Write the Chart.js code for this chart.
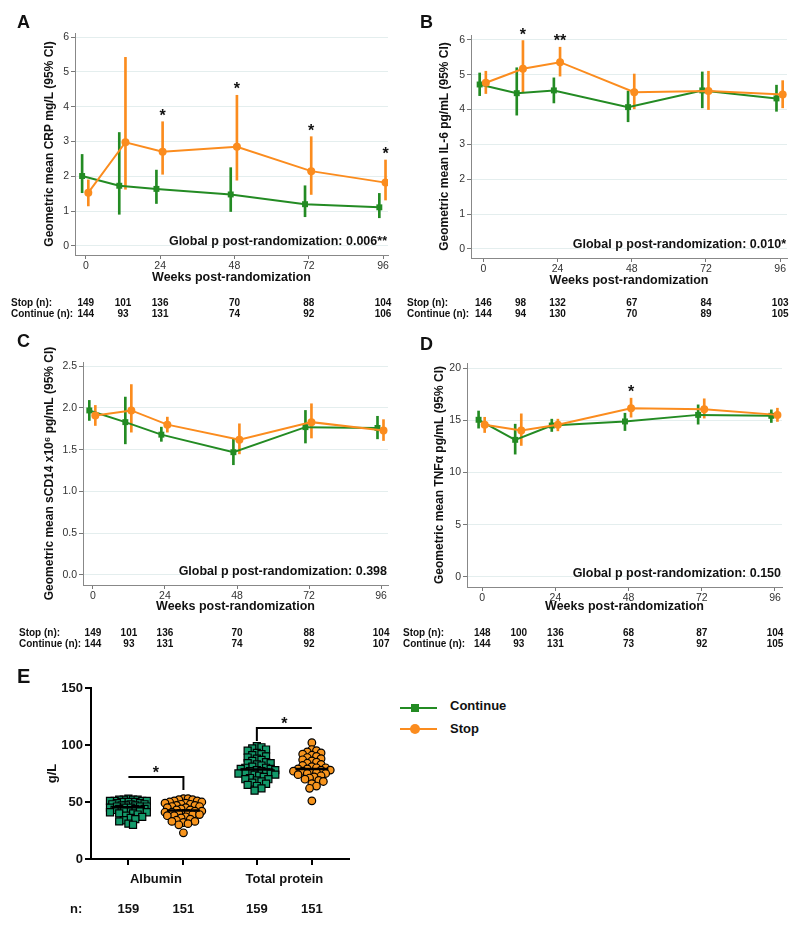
<!DOCTYPE html>
<html>
<head>
<meta charset="utf-8">
<script src="https://cdn.jsdelivr.net/npm/chart.js@4.4.1/dist/chart.umd.min.js"></script>
<style>
  body { margin: 0; background: #fff; font-family: Arial, "Liberation Sans", sans-serif; }
  #wrap { position: relative; width: 800px; height: 925px; overflow: hidden; }
  canvas { position: absolute; }
  .tag { position: absolute; font-weight: bold; font-size: 18px; line-height: 18px; color: #111; }
  .key { position: absolute; left: 400px; width: 37px; height: 2px; }
  .keytxt { position: absolute; left: 450px; font-weight: bold; font-size: 13px; line-height: 14px; color: #111; }
</style>
</head>
<body>
<div id="wrap">
  <canvas id="chartA" width="400" height="325" style="left:0;top:0"></canvas>
  <canvas id="chartB" width="400" height="325" style="left:400px;top:0"></canvas>
  <canvas id="chartC" width="400" height="325" style="left:0;top:330px"></canvas>
  <canvas id="chartD" width="400" height="325" style="left:400px;top:330px"></canvas>
  <canvas id="chartE" width="400" height="265" style="left:0;top:660px"></canvas>

  <div class="tag" style="left:17px;top:13px">A</div>
  <div class="tag" style="left:420px;top:13px">B</div>
  <div class="tag" style="left:17px;top:332px">C</div>
  <div class="tag" style="left:420px;top:335px">D</div>
  <div class="tag" style="left:17px;top:666px;font-size:20px;line-height:20px">E</div>

  <!-- legend -->
  <div class="key" style="top:707px;background:#238b23"></div>
  <div style="position:absolute;left:411px;top:704px;width:8px;height:8px;background:#238b23"></div>
  <div class="keytxt" style="top:699px">Continue</div>
  <div class="key" style="top:728px;background:#fb8c1e"></div>
  <div style="position:absolute;left:410px;top:724px;width:10px;height:10px;border-radius:50%;background:#fb8c1e"></div>
  <div class="keytxt" style="top:722px">Stop</div>
</div>

<script>
// ---- data ----
const weeks = [0, 12, 24, 48, 72, 96];
const weekTicks = [0, 24, 48, 72, 96];

// A: CRP
const crpTicks = [0, 1, 2, 3, 4, 5, 6];
const crpContinue = [2.01, 1.73, 1.64, 1.48, 1.20, 1.11];
const crpContinueLow = [1.53, 0.91, 1.22, 0.99, 0.84, 0.81];
const crpContinueHigh = [2.63, 3.26, 2.18, 2.25, 1.73, 1.51];
const crpStop = [1.53, 2.98, 2.71, 2.85, 2.15, 1.82];
const crpStopLow = [1.15, 1.63, 2.06, 1.89, 1.48, 1.32];
const crpStopHigh = [1.90, 5.42, 3.57, 4.33, 3.14, 2.47];
const crpStars = ['', '', '*', '*', '*', '*'];
const crpStopN = [149, 101, 136, 70, 88, 104];
const crpContinueN = [144, 93, 131, 74, 92, 106];

// B: IL-6
const il6Ticks = [0, 1, 2, 3, 4, 5, 6];
const il6Continue = [4.72, 4.47, 4.55, 4.07, 4.55, 4.32];
const il6ContinueLow = [4.40, 3.84, 4.19, 3.65, 4.05, 3.95];
const il6ContinueHigh = [5.05, 5.20, 4.91, 4.53, 5.08, 4.70];
const il6Stop = [4.77, 5.17, 5.36, 4.50, 4.53, 4.43];
const il6StopLow = [4.46, 4.48, 4.96, 4.02, 4.00, 4.05];
const il6StopHigh = [5.10, 5.98, 5.79, 5.02, 5.10, 4.83];
const il6Stars = ['', '*', '**', '', '', ''];
const il6StopN = [146, 98, 132, 67, 84, 103];
const il6ContinueN = [144, 94, 130, 70, 89, 105];

// C: sCD14
const cd14Ticks = [0, 0.5, 1, 1.5, 2, 2.5];
const cd14Continue = [1.97, 1.83, 1.68, 1.47, 1.77, 1.76];
const cd14ContinueLow = [1.85, 1.57, 1.60, 1.32, 1.58, 1.63];
const cd14ContinueHigh = [2.09, 2.13, 1.77, 1.63, 1.97, 1.90];
const cd14Stop = [1.91, 1.97, 1.80, 1.62, 1.83, 1.73];
const cd14StopLow = [1.79, 1.71, 1.71, 1.45, 1.64, 1.61];
const cd14StopHigh = [2.03, 2.28, 1.89, 1.81, 2.05, 1.86];
const cd14Stars = ['', '', '', '', '', ''];
const cd14StopN = [149, 101, 136, 70, 88, 104];
const cd14ContinueN = [144, 93, 131, 74, 92, 107];

// D: TNFa
const tnfTicks = [0, 5, 10, 15, 20];
const tnfContinue = [15.06, 13.14, 14.51, 14.90, 15.53, 15.44];
const tnfContinueLow = [14.26, 11.77, 13.94, 14.03, 14.64, 14.80];
const tnfContinueHigh = [15.90, 14.64, 15.12, 15.69, 16.49, 16.01];
const tnfStop = [14.58, 14.03, 14.58, 16.17, 16.08, 15.53];
const tnfStopLow = [13.84, 12.60, 14.00, 15.31, 15.22, 14.90];
const tnfStopHigh = [15.30, 15.63, 15.12, 17.13, 17.07, 16.17];
const tnfStars = ['', '', '', '*', '', ''];
const tnfStopN = [148, 100, 136, 68, 87, 104];
const tnfContinueN = [144, 93, 131, 73, 92, 105];

// E: albumin / total protein (g/L), visible points
const proteinGroups = ['Albumin', 'Total protein'];
const proteinTicks = [0, 50, 100, 150];
const albuminContinue = [53, 52, 52, 52, 52, 51, 51, 51, 51, 50, 50, 50, 49, 49, 48, 48, 48, 47, 47, 47, 46, 46, 46,
  45, 45, 45, 44, 44, 44, 43, 43, 42, 42, 41, 41, 40, 40, 39, 38, 37, 36, 35, 34, 33, 31, 30];
const albuminStop = [53, 53, 52, 52, 51, 51, 50, 50, 49, 49, 48, 48, 47, 47, 46, 46, 45, 45, 44, 43, 43, 42, 42,
  41, 41, 40, 40, 40, 39, 39, 38, 38, 37, 36, 35, 34, 33, 33, 32, 31, 30, 23];
const proteinContinue = [99, 98, 97, 96, 95, 93, 92, 91, 90, 89, 88, 87, 86, 85, 84, 84, 83, 82, 81, 80, 80, 79, 79,
  78, 78, 77, 77, 76, 76, 75, 75, 74, 74, 73, 72, 71, 70, 70, 69, 68, 67, 66, 65, 64, 62, 60];
const proteinStop = [102, 96, 95, 94, 93, 92, 91, 90, 89, 88, 87, 86, 85, 84, 83, 82, 81, 80, 80, 79, 79, 78, 78,
  77, 77, 76, 76, 75, 75, 74, 73, 72, 71, 70, 69, 68, 66, 64, 62, 51];
const proteinN = [159, 151, 159, 151];
const proteinStars = ['*', '*'];

const GREEN = '#238b23';
const ORANGE = '#fb8c1e';
Chart.defaults.font.family = 'Arial, "Liberation Sans", sans-serif';

// text drawn on top of the time-course panels: stars, global p, n rows
const panelText = {
  id: 'panelText',
  afterDatasetsDraw(chart, args, o) {
    if (!o || !o.stars) return;
    const {ctx, chartArea} = chart;
    const xs = chart.scales.x, ys = chart.scales.y;
    ctx.save();
    ctx.fillStyle = '#111';
    ctx.font = 'bold 16px Arial, "Liberation Sans", sans-serif';
    ctx.textAlign = 'center';
    ctx.textBaseline = 'alphabetic';
    o.stars.forEach((s, i) => {
      if (!s) return;
      const top = Math.max(o.stopHigh[i], o.contHigh[i]);
      ctx.fillText(s, xs.getPixelForValue(weeks[i] + 0.8), ys.getPixelForValue(top) - 1);
    });
    ctx.font = 'bold 12.5px Arial, "Liberation Sans", sans-serif';
    ctx.textAlign = 'right';
    ctx.fillText(o.pText, chartArea.right - 1, chartArea.bottom - 10);
    ctx.font = 'bold 10px Arial, "Liberation Sans", sans-serif';
    ctx.textAlign = 'left';
    ctx.fillText('Stop (n):', chartArea.left - 64, 306);
    ctx.fillText('Continue (n):', chartArea.left - 64, 317);
    ctx.textAlign = 'center';
    weeks.forEach((w, i) => {
      const x = xs.getPixelForValue(w);
      ctx.fillText(String(o.stopN[i]), x, 306);
      ctx.fillText(String(o.contN[i]), x, 317);
    });
    ctx.restore();
  }
};

function makePanel(id, p) {
  const offC = -1.2, offS = 0.8;
  const axisW = p.left - p.titleX + 7.2;      // y axis box so its title lands at titleX
  const xAxisH = p.titleY + 11.5 - p.bottom;  // x axis box so its title lands at titleY
  new Chart(document.getElementById(id), {
    type: 'line',
    data: {
      datasets: [
        { type: 'bar', data: weeks.map((w, i) => ({x: w + offC, y: [p.contLow[i], p.contHigh[i]]})),
          backgroundColor: GREEN, barThickness: 2, grouped: false, order: 4 },
        { type: 'bar', data: weeks.map((w, i) => ({x: w + offS, y: [p.stopLow[i], p.stopHigh[i]]})),
          backgroundColor: ORANGE, barThickness: 2, grouped: false, order: 3 },
        { data: weeks.map((w, i) => ({x: w + offC, y: p.cont[i]})), borderColor: GREEN, backgroundColor: GREEN,
          borderWidth: 2, pointStyle: 'rect', pointRadius: 4.2, pointBorderWidth: 0, tension: 0, order: 2 },
        { data: weeks.map((w, i) => ({x: w + offS, y: p.stop[i]})), borderColor: ORANGE, backgroundColor: ORANGE,
          borderWidth: 2, pointStyle: 'circle', pointRadius: 4, pointBorderWidth: 0, tension: 0, order: 1 }
      ]
    },
    options: {
      responsive: false, animation: false, devicePixelRatio: 1,
      layout: { padding: { left: p.titleX - 7.2, right: 400 - p.right, top: p.top, bottom: 325 - p.bottom - xAxisH } },
      plugins: { legend: { display: false }, tooltip: { enabled: false }, panelText: p },
      scales: {
        x: {
          type: 'linear', min: p.xMin, max: p.xMax, offset: false,
          afterBuildTicks: s => { s.ticks = weekTicks.map(v => ({value: v})); },
          afterFit: s => { s.height = xAxisH; },
          grid: { offset: false, drawOnChartArea: false, tickLength: 4, tickColor: '#777' },
          border: { color: '#888' },
          ticks: { font: { size: 10.5 }, color: '#333', padding: 1, maxRotation: 0 },
          title: { display: true, text: 'Weeks post-randomization', color: '#111',
                   font: { size: 12.5, weight: 'bold' }, padding: { top: 0, bottom: 4 } }
        },
        y: {
          min: p.yMin, max: p.yMax,
          afterBuildTicks: s => { s.ticks = p.yTicks.map(v => ({value: v})); },
          afterFit: s => { s.width = axisW; },
          grid: { color: '#e4eeee', tickLength: 4, tickColor: '#777' },
          border: { color: '#888' },
          ticks: { font: { size: 10.5 }, color: '#333', padding: 2, callback: p.fmt },
          title: { display: true, text: p.yTitle, color: '#111',
                   font: { size: 12, weight: 'bold' }, padding: { top: 0, bottom: 0 } }
        }
      }
    },
    plugins: [panelText]
  });
}

const intFmt = v => String(v);
makePanel('chartA', {
  left: 75, right: 388, top: 33, bottom: 255, titleX: 50, titleY: 278,
  xMin: -3.5, xMax: 97.6, yMin: -0.26, yMax: 6.12,
  yTicks: crpTicks, fmt: intFmt, yTitle: 'Geometric mean CRP mg/L (95% CI)',
  cont: crpContinue, contLow: crpContinueLow, contHigh: crpContinueHigh,
  stop: crpStop, stopLow: crpStopLow, stopHigh: crpStopHigh,
  stars: crpStars, stopN: crpStopN, contN: crpContinueN, pText: 'Global p post-randomization: 0.006**'
});
makePanel('chartB', {
  left: 71, right: 387, top: 35, bottom: 258, titleX: 45, titleY: 281,
  xMin: -4, xMax: 98.2, yMin: -0.26, yMax: 6.14,
  yTicks: il6Ticks, fmt: intFmt, yTitle: 'Geometric mean IL-6 pg/mL (95% CI)',
  cont: il6Continue, contLow: il6ContinueLow, contHigh: il6ContinueHigh,
  stop: il6Stop, stopLow: il6StopLow, stopHigh: il6StopHigh,
  stars: il6Stars, stopN: il6StopN, contN: il6ContinueN, pText: 'Global p post-randomization: 0.010*'
});
makePanel('chartC', {
  left: 83, right: 388, top: 32, bottom: 255, titleX: 50, titleY: 277,
  xMin: -3.3, xMax: 98.3, yMin: -0.12, yMax: 2.55,
  yTicks: cd14Ticks, fmt: v => v.toFixed(1), yTitle: 'Geometric mean sCD14 x10\u2076 pg/mL (95% CI)',
  cont: cd14Continue, contLow: cd14ContinueLow, contHigh: cd14ContinueHigh,
  stop: cd14Stop, stopLow: cd14StopLow, stopHigh: cd14StopHigh,
  stars: cd14Stars, stopN: cd14StopN, contN: cd14ContinueN, pText: 'Global p post-randomization: 0.398'
});
makePanel('chartD', {
  left: 67, right: 382, top: 33, bottom: 257, titleX: 40, titleY: 277,
  xMin: -5, xMax: 98.3, yMin: -0.96, yMax: 20.5,
  yTicks: tnfTicks, fmt: intFmt, yTitle: 'Geometric mean TNF\u03b1 pg/mL (95% CI)',
  cont: tnfContinue, contLow: tnfContinueLow, contHigh: tnfContinueHigh,
  stop: tnfStop, stopLow: tnfStopLow, stopHigh: tnfStopHigh,
  stars: tnfStars, stopN: tnfStopN, contN: tnfContinueN, pText: 'Global p post-randomization: 0.150'
});

// ---- panel E: swarm plot ----
const GROUP_GAP = 2.335;
const armPos = (g, a) => 1 + g * GROUP_GAP + a;   // g: group, a: 0 continue / 1 stop

// place points side by side (roughly in pixels), letting them overlap a bit like the original
function swarm(values, center) {
  const gap = 4.6, step = 2.3, cap = 20, pxX = 55, pxY = 171 / 150;
  const placed = [];
  return values.slice().sort((a, b) => b - a).map(v => {
    const py = v * pxY;
    let best = 0, bestDist = -1;
    for (let k = 0; ; k++) {
      const off = (k % 2 ? 1 : -1) * Math.ceil(k / 2) * step;
      if (Math.abs(off) > cap) break;
      const dist = placed.reduce((m, q) => Math.min(m, Math.hypot(q.x - off, q.y - py)), 1e9);
      if (dist >= gap) { best = off; break; }
      if (dist > bestDist) { bestDist = dist; best = off; }
    }
    placed.push({x: best, y: py});
    return {x: center + best / pxX, y: v};
  });
}
const median = arr => {
  const s = arr.slice().sort((a, b) => a - b), m = s.length >> 1;
  return s.length % 2 ? s[m] : (s[m - 1] + s[m]) / 2;
};
const medianLine = (arr, c) => ({
  type: 'line', data: [{x: c - 0.3, y: median(arr)}, {x: c + 0.3, y: median(arr)}],
  borderColor: '#000', borderWidth: 2.5, pointRadius: 0, order: 0
});

const eText = {
  id: 'eText',
  afterDatasetsDraw(chart) {
    const {ctx} = chart;
    const xs = chart.scales.x, ys = chart.scales.y;
    ctx.save();
    ctx.fillStyle = '#111';
    ctx.font = 'bold 13px Arial, "Liberation Sans", sans-serif';
    ctx.textAlign = 'center';
    ctx.textBaseline = 'middle';
    proteinGroups.forEach((g, i) => {
      ctx.fillText(g, xs.getPixelForValue(armPos(i, 0.5)), 219);
    });
    proteinN.forEach((n, i) => {
      ctx.fillText(String(n), xs.getPixelForValue(armPos(i >> 1, i % 2)), 249);
    });
    ctx.textAlign = 'left';
    ctx.fillText('n:', 70, 249);
    ctx.font = 'bold 16px Arial, "Liberation Sans", sans-serif';
    ctx.textAlign = 'center';
    ctx.textBaseline = 'alphabetic';
    const tops = [72, 115];
    proteinStars.forEach((s, i) => {
      ctx.fillText(s, xs.getPixelForValue(armPos(i, 0.5)), ys.getPixelForValue(tops[i]) + 1);
    });
    ctx.restore();
  }
};

new Chart(document.getElementById('chartE'), {
  type: 'scatter',
  data: {
    datasets: [
      { data: swarm(albuminContinue, armPos(0, 0)).concat(swarm(proteinContinue, armPos(1, 0))),
        pointStyle: 'rect', pointRadius: 5, backgroundColor: '#13996a', borderColor: '#000', borderWidth: 1.2, order: 2 },
      { data: swarm(albuminStop, armPos(0, 1)).concat(swarm(proteinStop, armPos(1, 1))),
        pointStyle: 'circle', pointRadius: 3.8, backgroundColor: '#f7941d', borderColor: '#000', borderWidth: 1.2, order: 2 },
      medianLine(albuminContinue, armPos(0, 0)),
      medianLine(albuminStop, armPos(0, 1)),
      medianLine(proteinContinue, armPos(1, 0)),
      medianLine(proteinStop, armPos(1, 1)),
      { type: 'line', data: [{x: armPos(0, 0), y: 72}, {x: armPos(0, 1), y: 72}, {x: armPos(0, 1), y: 60.5}],
        borderColor: '#000', borderWidth: 2, pointRadius: 0, order: 1 },
      { type: 'line', data: [{x: armPos(1, 0), y: 103.5}, {x: armPos(1, 0), y: 115}, {x: armPos(1, 1), y: 115}],
        borderColor: '#000', borderWidth: 2, pointRadius: 0, order: 1 }
    ]
  },
  options: {
    responsive: false, animation: false, devicePixelRatio: 1,
    layout: { padding: { left: 45, right: 51, top: 28, bottom: 26 } },
    plugins: { legend: { display: false }, tooltip: { enabled: false } },
    scales: {
      x: {
        type: 'linear', min: 0.32, max: 5.01,
        afterBuildTicks: s => { s.ticks = [0, 1, 2, 3].map(i => ({value: armPos(i >> 1, i % 2)})); },
        afterFit: s => { s.height = 40; },
        grid: { drawOnChartArea: false, tickLength: 6, tickColor: '#000', lineWidth: 2 },
        border: { color: '#000', width: 2 },
        ticks: { callback: () => '' }
      },
      y: {
        min: 0, max: 150,
        afterBuildTicks: s => { s.ticks = proteinTicks.map(v => ({value: v})); },
        afterFit: s => { s.width = 46; },
        grid: { drawOnChartArea: false, tickLength: 6, tickColor: '#000', lineWidth: 2 },
        border: { color: '#000', width: 2 },
        ticks: { font: { size: 13, weight: 'bold' }, color: '#111', padding: 2 },
        title: { display: true, text: 'g/L', color: '#111', font: { size: 13, weight: 'bold' }, padding: 0 }
      }
    }
  },
  plugins: [eText]
});
</script>
</body>
</html>
